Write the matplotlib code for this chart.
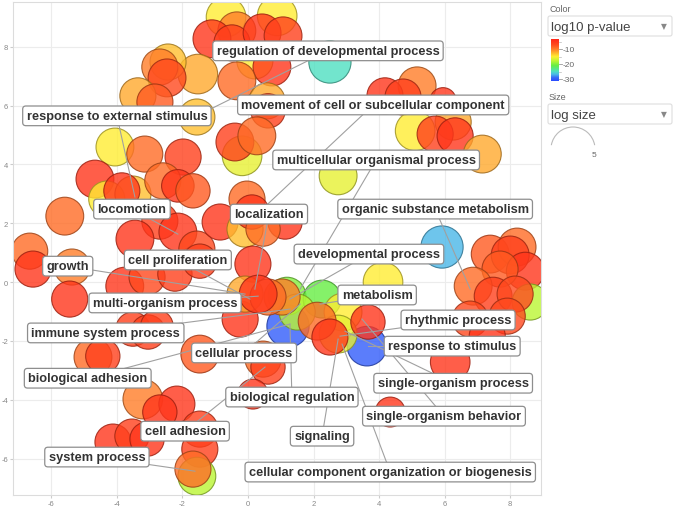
import matplotlib
matplotlib.use("Agg")
import numpy as np
import matplotlib.pyplot as plt
from matplotlib.colors import LinearSegmentedColormap, Normalize, to_rgba
from matplotlib.patches import FancyBboxPatch, Arc

# ---------------- data ----------------
term_x = [-0.67, 0.89, -0.34, -1.10, -0.49, 0.43, 1.07, 0.21, 0.73, -0.34,
          -1.53, -2.44, -2.69, -2.47, -3.36, -2.84, -1.56, 0.58, 0.61, -0.18,
          -0.40, 0.27, 2.50,
          5.16, 4.18, 4.73, 5.95, 5.10, 6.26, 5.71, 6.32, 7.15, 2.75,
          -4.06, -3.15, -1.98, -4.67, -4.31, -3.51, -3.85, -2.60, -2.14, -1.68,
          -5.59, -2.69, -3.45, -2.14, -1.56, -0.85, -0.09, -0.03, 0.12, 1.13, 0.46,
          -6.66, -6.56, -5.37, -5.44, -3.76, -3.08, -2.23, -1.47, 0.15, -0.24,
          -0.09, 1.22, 1.19, 2.26, 1.50, 1.04, 0.61, 0.31, 3.63, 2.90, 2.75, 2.11,
          2.50, 3.66, 4.12, 5.92,
          7.39, 8.21, 8.00, 8.46, 7.69, 6.87, 7.48, 8.61, 8.15, 7.91, 6.78, 7.30,
          6.17, 4.34,
          -4.73, -4.43, -3.51, -3.05, -2.78, -1.47, 0.46, 0.61, 0.15, -3.21,
          -2.17, -2.69, -1.47, -4.12, -3.54, -3.08, -1.47, -1.56, -1.68]
term_y = [9.01, 9.05, 8.54, 8.27, 8.13, 8.47, 8.37, 7.52, 7.31, 6.84,
          7.07, 7.48, 7.31, 6.94, 6.33, 6.12, 5.61, 6.16, 5.82, 4.29,
          4.76, 4.97, 7.48,
          6.67, 6.33, 6.29, 6.16, 5.14, 5.44, 5.03, 4.97, 4.35, 3.61,
          4.59, 4.35, 4.25, 3.50, 2.82, 2.99, 3.10, 3.44, 3.27, 3.10,
          2.24, 2.07, 1.46, 1.70, 1.12, 2.04, 1.80, 2.82, 2.38, 2.04, 1.80,
          1.05, 0.44, 0.51, -0.58, -0.14, 0.17, 0.27, 0.71, 0.61, -1.26,
          -0.41, -1.50, -0.48, -0.58, -1.02, -0.51, -0.51, -0.41, -2.18, -1.02, -1.77, -1.33,
          -1.87, -1.36, 0.00, 1.19,
          0.95, 1.19, 0.92, 0.37, 0.44, -0.14, -0.48, -0.68, -0.41, -1.16, -1.26, -1.84,
          -2.72, -4.42,
          -2.55, -2.52, -1.60, -1.70, -1.50, -2.45, -2.62, -2.89, -3.81, -3.98,
          -4.15, -4.42, -5.00, -5.44, -5.24, -5.34, -5.68, -6.60, -6.36]
log10_p = [-15, -15, -10, -5, -6, -5, -6, -15, -5, -9,
           -12, -13, -10, -7, -12, -8, -13, -12, -6, -16,
           -6, -9, -25,
           -10, -5, -6, -5, -15, -12, -6, -5, -12, -16,
           -15, -9, -6, -5, -15, -13, -5, -9, -5, -8,
           -9, -6, -5, -5, -7, -5, -13, -9, -5, -5, -9,
           -9, -5, -10, -5, -5, -7, -6, -6, -5, -5,
           -12, -30, -20, -21, -18, -10, -9, -5, -30, -15, -16, -9,
           -5, -5, -15, -27,
           -8, -9, -6, -5, -8, -9, -6, -18, -7, -7, -7, -5,
           -5, -5,
           -9, -6, -6, -6, -6, -8, -9, -6, -5, -10,
           -5, -5, -6, -5, -6, -5, -6, -18, -9]
log_size = [4.5, 4.5, 4.3, 4.3, 4.1, 4.3, 4.3, 4.1, 4.3, 4.3,
            4.5, 4.1, 4.1, 4.3, 4.1, 4.1, 4.1, 4.1, 3.9, 4.5,
            4.3, 4.3, 4.8,
            4.3, 4.1, 4.1, 3.0, 4.5, 4.1, 4.1, 4.1, 4.3, 4.3,
            4.3, 4.1, 4.1, 4.3, 4.1, 4.1, 4.1, 4.1, 3.7, 3.9,
            4.3, 4.1, 4.3, 4.3, 4.1, 4.1, 4.1, 4.1, 3.9, 3.9, 3.9,
            4.1, 4.1, 4.1, 4.1, 4.3, 4.1, 3.9, 3.9, 4.1, 4.1,
            4.1, 4.8, 4.3, 4.3, 4.1, 4.1, 4.1, 4.3, 4.5, 4.3, 4.3, 4.3,
            4.1, 3.9, 4.5, 4.8,
            4.3, 4.3, 4.3, 4.3, 4.1, 4.3, 4.3, 4.1, 4.1, 4.1, 4.1, 4.1,
            4.5, 3.4,
            4.3, 3.9, 3.9, 3.9, 3.7, 4.3, 4.1, 3.9, 3.4, 4.5,
            4.1, 3.9, 4.1, 4.1, 3.9, 3.9, 4.1, 4.3, 4.1]

label_text = ["regulation of developmental process",
              "movement of cell or subcellular component",
              "response to external stimulus",
              "multicellular organismal process",
              "organic substance metabolism",
              "locomotion", "localization", "developmental process",
              "growth", "cell proliferation", "multi-organism process",
              "metabolism", "rhythmic process", "immune system process",
              "response to stimulus", "cellular process", "biological adhesion",
              "single-organism process", "biological regulation",
              "single-organism behavior", "cell adhesion", "signaling",
              "system process",
              "cellular component organization or biogenesis"]
label_x = [2.44, 3.82, -4.00, 3.91, 5.71, -3.54, 0.64, 3.69, -5.50, -2.14,
           -2.53, 3.94, 6.41, -4.34, 6.23, -0.12, -4.89, 6.26, 1.34, 5.98,
           -1.92, 2.26, -4.61, 4.34]
label_y = [7.86, 6.02, 5.65, 4.15, 2.48, 2.48, 2.31, 0.95, 0.54, 0.75,
           -0.71, -0.44, -1.29, -1.73, -2.18, -2.41, -3.27, -3.44, -3.91, -4.56,
           -5.07, -5.24, -5.95, -6.46]
target_x = [-1.56, 0.21, -3.45, 1.59, 6.78, -2.14, 0.21, 1.28, -0.09, 0.06,
            0.31, 2.20, 2.81, 1.28, 3.66, 1.59, 1.28, 2.96, 1.28, 3.48,
            0.52, 2.75, -1.62, 2.87]
target_y = [5.65, 2.24, 2.89, -0.24, -0.24, 1.63, -0.24, -0.58, -0.41, -0.58,
            -0.48, -0.75, -1.84, -0.92, -2.18, -0.75, -1.43, -1.67, -1.43, -1.26,
            -2.89, -1.94, -6.43, -2.11]

x_ticks = [-6, -4, -2, 0, 2, 4, 6, 8]
y_ticks = [-6, -4, -2, 0, 2, 4, 6, 8]
cbar_ticks = [-10, -20, -30]
size_legend_value = 5

# ---------------- styling ----------------
plt.rcParams['font.family'] = ['Liberation Sans', 'DejaVu Sans']
plt.rcParams['axes.unicode_minus'] = False
DPI = 100
fig = plt.figure(figsize=(6.75, 5.10), dpi=DPI)
ax = fig.add_axes([13 / 675, 14 / 510, 528 / 675, 493 / 510])

vmin, vmax = -31.3, -3.3
nodes = [(-31.3, '#2a4bff'), (-29.0, '#3a6cf5'), (-27.0, '#4ab8e8'),
         (-25.0, '#4fe0c0'), (-21.0, '#66ee44'), (-18.0, '#bbf533'),
         (-15.0, '#ffee33'), (-12.5, '#ffb52e'), (-10.0, '#ff7d28'),
         (-7.0, '#ff4a1e'), (-3.3, '#ff2618')]
cmap = LinearSegmentedColormap.from_list(
    'revigo', [((v - vmin) / (vmax - vmin), c) for v, c in nodes])
norm = Normalize(vmin, vmax)

vals = np.array(log10_p, dtype=float)
face = cmap(norm(vals))
face[:, 3] = 0.8
edge = cmap(norm(vals)).copy()
edge[:, :3] *= 0.62
edge[:, 3] = 0.85
r_px = 4.4 * np.array(log_size)
s = (2 * r_px * 72 / DPI) ** 2
ax.scatter(term_x, term_y, s=s, c=face, edgecolors=edge, linewidths=0.8, zorder=2)

for tx, ty, lx, ly in zip(target_x, target_y, label_x, label_y):
    ax.plot([tx, lx], [ty, ly], color='#a0a0a0', lw=0.8, zorder=3)

for t, lx, ly in zip(label_text, label_x, label_y):
    ax.text(lx, ly, t, ha='center', va='center', fontsize=9.2, fontweight='bold',
            color='#333333', zorder=5,
            bbox=dict(boxstyle='round,pad=0.3,rounding_size=0.25', fc='white',
                      ec='#8e8e8e', lw=0.9))

ax.set_xlim(-7.17, 8.94)
ax.set_ylim(-7.24, 9.52)
ax.set_xticks(x_ticks)
ax.set_yticks(y_ticks)
ax.tick_params(labelsize=5.5, labelcolor='#888888', length=2, color='#cccccc', pad=1.5)
ax.grid(True, color='#ececec', lw=0.8, zorder=0)
ax.set_axisbelow(True)
for sp in ax.spines.values():
    sp.set_color('#dcdcdc')
    sp.set_linewidth(0.8)

# ---------------- legend panel (pixel coordinates) ----------------
lg = fig.add_axes([0, 0, 1, 1], zorder=10)
lg.set_xlim(0, 675)
lg.set_ylim(510, 0)
lg.axis('off')
lg.patch.set_alpha(0)

lg.text(549, 9, 'Color', fontsize=6.5, color='#666666', va='center', ha='left')
lg.add_patch(FancyBboxPatch((548, 17), 124, 20, boxstyle='round,pad=0,rounding_size=2',
                            fc='white', ec='#dddddd', lw=0.8))
lg.text(551, 27.5, 'log10 p-value', fontsize=9.5, color='#444444', va='center', ha='left')
lg.text(664, 27, '\u25bc', fontsize=5.5, color='#888888', va='center', ha='center',
        family='DejaVu Sans')

grad = np.linspace(vmax, vmin, 200).reshape(-1, 1)
lg.imshow(grad, cmap=cmap, norm=norm, extent=(551, 559, 82, 40), aspect='auto',
          origin='upper', zorder=2)
for v in cbar_ticks:
    yy = 40 + (vmax - v) / (vmax - vmin) * 42
    lg.plot([559, 562], [yy, yy], color='#999999', lw=0.6)
    lg.text(563, yy, str(v), fontsize=6, color='#666666', va='center', ha='left')
for v in [-5, -15, -25]:
    yy = 40 + (vmax - v) / (vmax - vmin) * 42
    lg.plot([559, 561], [yy, yy], color='#bbbbbb', lw=0.5)

lg.text(549, 97, 'Size', fontsize=6.5, color='#666666', va='center', ha='left')
lg.add_patch(FancyBboxPatch((548, 105), 124, 20, boxstyle='round,pad=0,rounding_size=2',
                            fc='white', ec='#dddddd', lw=0.8))
lg.text(551, 115.5, 'log size', fontsize=9.5, color='#444444', va='center', ha='left')
lg.text(664, 115, '\u25bc', fontsize=5.5, color='#888888', va='center', ha='center',
        family='DejaVu Sans')
rad = 4.4 * size_legend_value
lg.add_patch(Arc((573, 150), 2 * rad, 2 * rad, theta1=190, theta2=350,
                 color='#bbbbbb', lw=0.8))
lg.text(594, 156, str(size_legend_value), fontsize=6, color='#666666', va='center',
        ha='center')

fig.savefig('out.png', dpi=DPI)
